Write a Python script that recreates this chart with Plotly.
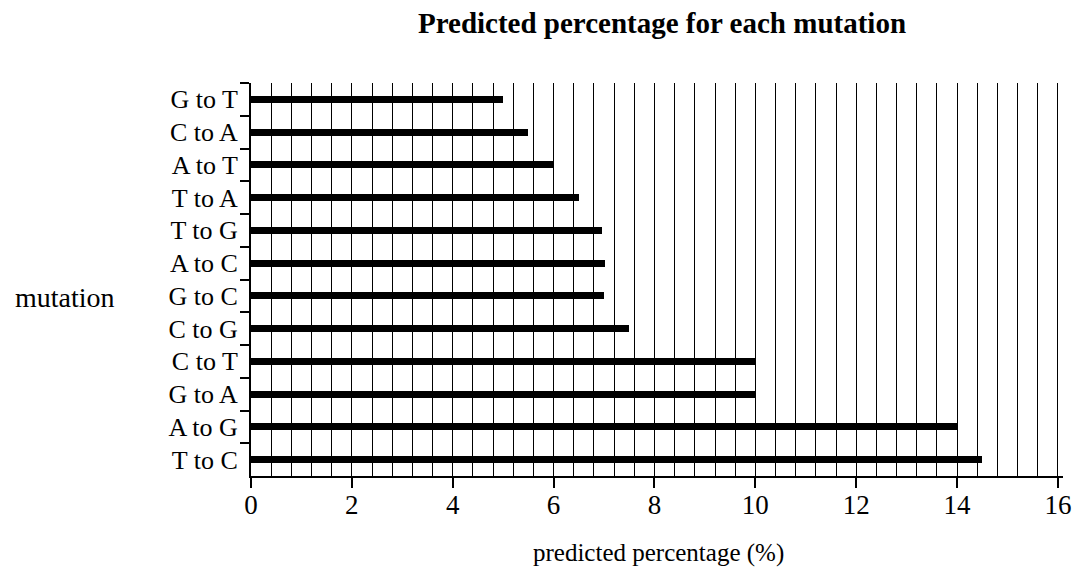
import plotly.graph_objects as go

categories = ["G to T", "C to A", "A to T", "T to A", "T to G", "A to C",
              "G to C", "C to G", "C to T", "G to A", "A to G", "T to C"]
values = [5.0, 5.5, 6.0, 6.5, 6.95, 7.02, 7.0, 7.5, 10.0, 10.0, 14.0, 14.5]
x_ticks = [0, 2, 4, 6, 8, 10, 12, 14, 16]

FONT = "Liberation Serif"

fig = go.Figure(go.Bar(
    x=values, y=categories, orientation="h",
    marker=dict(color="black", line=dict(width=0)),
    width=0.22,
))

fig.update_layout(
    width=1083, height=568,
    margin=dict(l=251, r=12, t=83, b=92),
    plot_bgcolor="white", paper_bgcolor="white",
    font=dict(family=FONT, color="black", size=26),
    showlegend=False,
    title=dict(text="<b>Predicted percentage for each mutation</b>",
               x=662/1083, xanchor="center", y=1-23/568, yanchor="middle",
               font=dict(family=FONT, size=29, color="black")),
    bargap=0,
)

fig.update_xaxes(
    range=[0, 16.1], tickvals=x_ticks, ticktext=[str(v) for v in x_ticks],
    showline=True, linecolor="black", linewidth=2,
    ticks="outside", ticklen=10, tickwidth=2, tickcolor="black",
    showgrid=True, gridcolor="black", gridwidth=1,
    minor=dict(dtick=0.4, tick0=0, showgrid=True, gridcolor="black", gridwidth=1),
    tickfont=dict(family=FONT, size=27, color="black"),
    ticklabelstandoff=-6,
    zeroline=False,
)

fig.update_yaxes(
    categoryorder="array", categoryarray=categories, autorange="reversed",
    showline=True, linecolor="black", linewidth=2,
    ticks="outside", ticklen=9, tickwidth=2, tickcolor="black",
    tickson="boundaries", showgrid=False, ticklabelstandoff=6,
    tickfont=dict(family=FONT, size=26, color="black"),
)

fig.add_annotation(text="mutation", xref="paper", yref="paper",
                   x=(63-251)/820, y=(476-297)/393, xanchor="center", yanchor="middle",
                   showarrow=False, font=dict(family=FONT, size=28, color="black"))
fig.add_annotation(text="predicted percentage (%)", xref="paper", yref="paper",
                   x=(663-251)/820, y=-(553-476)/393, xanchor="center", yanchor="middle",
                   showarrow=False, font=dict(family=FONT, size=25, color="black"))

fig.write_html("out.html", config={"displayModeBar": False},
               post_script="document.body.style.margin='0';")
